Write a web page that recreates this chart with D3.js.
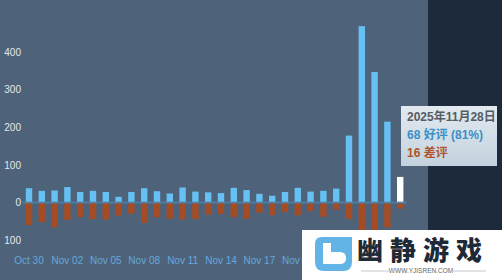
<!DOCTYPE html>
<html>
<head>
<meta charset="utf-8">
<script src="https://cdn.jsdelivr.net/npm/d3@7"></script>
<style>
  body { margin: 0; background: #1b2838; }
  svg { display: block; }
</style>
</head>
<body>
<div id="chart"></div>
<script>
// review histogram data, one entry per day
const days = [
  '2025-10-30', '2025-10-31', '2025-11-01', '2025-11-02', '2025-11-03', '2025-11-04',
  '2025-11-05', '2025-11-06', '2025-11-07', '2025-11-08', '2025-11-09', '2025-11-10',
  '2025-11-11', '2025-11-12', '2025-11-13', '2025-11-14', '2025-11-15', '2025-11-16',
  '2025-11-17', '2025-11-18', '2025-11-19', '2025-11-20', '2025-11-21', '2025-11-22',
  '2025-11-23', '2025-11-24', '2025-11-25', '2025-11-26', '2025-11-27', '2025-11-28'
]
const positive = [38, 31, 32, 41, 28, 31, 28, 15, 28, 38, 30, 24,
                  40, 29, 27, 25, 39, 33, 23, 18, 28, 39, 29, 31,
                  37, 178, 469, 347, 215, 68]
const negative = [60, 52, 66, 46, 39, 44, 45, 35, 30, 54, 39, 43,
                  45, 44, 32, 30, 39, 43, 27, 34, 25, 34, 23, 38,
                  19, 44, 90, 78, 66, 16]
const yTicks = [-100, 0, 100, 200, 300, 400]
const xTickDays = ['2025-10-30', '2025-11-02', '2025-11-05', '2025-11-08', '2025-11-11',
                   '2025-11-14', '2025-11-17', '2025-11-20', '2025-11-23', '2025-11-26']
const xTickLabels = ['Oct 30', 'Nov 02', 'Nov 05', 'Nov 08', 'Nov 11',
                     'Nov 14', 'Nov 17', 'Nov 20', 'Nov 23', 'Nov 26']
const hovered = '2025-11-28'
const tipLines = ['2025年11月28日', '68 好评 (81%)', '16 差评']

const width = 502,
      height = 280,
      plotRight = 428

const svg = d3.select('#chart')
  .append('svg')
  .attr('width', width)
  .attr('height', height)

// backgrounds
svg.append('rect')
  .attr('width', width).attr('height', height)
  .attr('fill', '#1c2a3b')
svg.append('rect')
  .attr('width', plotRight).attr('height', height)
  .attr('fill', '#4e6379')

let xScale = d3.scaleBand()
  .domain(days)
  .range([22.6, 406.6])
  .paddingInner(0.5)
  .paddingOuter(0.25)

let yScale = d3.scaleLinear()
  .domain([-200, 500])
  .range([277.7, 14.5])

// positive bars
svg.selectAll('rect.pos')
  .data(days)
  .enter()
  .append('rect')
  .attr('class', 'pos')
  .attr('x', d => xScale(d))
  .attr('y', (d, i) => yScale(positive[i]))
  .attr('width', xScale.bandwidth())
  .attr('height', (d, i) => yScale(0) - yScale(positive[i]))
  .attr('fill', d => d === hovered ? '#ffffff' : '#66c0f4')

// negative bars
svg.selectAll('rect.neg')
  .data(days)
  .enter()
  .append('rect')
  .attr('class', 'neg')
  .attr('x', d => xScale(d))
  .attr('y', yScale(0))
  .attr('width', xScale.bandwidth())
  .attr('height', (d, i) => yScale(-negative[i]) - yScale(0))
  .attr('fill', '#a34c25')

// zero line across the bar area
svg.append('line')
  .attr('x1', xScale.range()[0]).attr('x2', xScale.range()[1])
  .attr('y1', yScale(0)).attr('y2', yScale(0))
  .attr('stroke', '#4f86b3')
  .attr('stroke-opacity', 0.75)
  .attr('stroke-width', 2)

// y axis, absolute values
let yAxis = svg.append('g')
  .attr('transform', 'translate(21,0)')
  .call(d3.axisLeft(yScale)
    .tickValues(yTicks)
    .tickFormat(d => Math.abs(d))
    .tickSize(0)
    .tickPadding(0))
yAxis.select('.domain').remove()
yAxis.selectAll('text')
  .attr('fill', '#e4e8eb')
  .attr('font-family', 'Liberation Sans, Arial, sans-serif')
  .attr('font-size', 10)

// x axis
let xAxis = svg.append('g')
  .attr('transform', 'translate(0,257)')
  .call(d3.axisBottom(xScale)
    .tickValues(xTickDays)
    .tickFormat(d => xTickLabels[xTickDays.indexOf(d)])
    .tickSize(0)
    .tickPadding(0))
xAxis.select('.domain').remove()
xAxis.selectAll('text')
  .attr('fill', '#64a8dc')
  .attr('font-family', 'Liberation Sans, Arial, sans-serif')
  .attr('font-size', 10)

// tooltip
const defs = svg.append('defs')
const grad = defs.append('linearGradient')
  .attr('id', 'tipGrad')
  .attr('x1', 0).attr('y1', 0).attr('x2', 0).attr('y2', 1)
grad.append('stop').attr('offset', '0%').attr('stop-color', '#e3eaf0')
grad.append('stop').attr('offset', '100%').attr('stop-color', '#c3d2de')

const tip = svg.append('g').attr('transform', 'translate(401,106)')
tip.append('rect')
  .attr('width', 96).attr('height', 60)
  .attr('fill', 'url(#tipGrad)')
const tipColors = ['#545c64', '#3b8fc6', '#b0542b']
tip.selectAll('text')
  .data(tipLines)
  .enter()
  .append('text')
  .attr('x', 6)
  .attr('y', (d, i) => 15 + i * 18)
  .attr('fill', (d, i) => tipColors[i])
  .attr('font-family', 'Liberation Sans, Arial, Noto Sans CJK SC, sans-serif')
  .attr('font-weight', 'bold')
  .attr('font-size', 12)
  .text(d => d)

// watermark overlay
const wm = svg.append('g')
wm.append('rect')
  .attr('x', 302).attr('y', 230)
  .attr('width', 200).attr('height', 50)
  .attr('fill', '#ffffff')
wm.append('path')
  .attr('d', 'M322,237 H352 V262 Q352,271 343,271 H324 Q315,271 315,262 V244 Q315,237 322,237 Z')
  .attr('fill', '#62b4e6')
wm.append('path')
  .attr('d', 'M323,243 V264 H340 Q346,264 346,258 Q346,252 340,252 H331 V243 Z')
  .attr('fill', '#ffffff')
wm.append('text')
  .attr('x', 357).attr('y', 248)
  .attr('dominant-baseline', 'central')
  .attr('fill', '#1f2a37')
  .attr('font-family', 'Noto Sans CJK SC, sans-serif')
  .attr('font-weight', 900)
  .attr('font-size', 26)
  .attr('letter-spacing', 7)
  .text('幽静游戏')
wm.append('text')
  .attr('x', 421).attr('y', 273)
  .attr('text-anchor', 'middle')
  .attr('fill', '#666')
  .attr('font-family', 'Liberation Sans, Arial, sans-serif')
  .attr('font-size', 6.5)
  .text('WWW.YJISREN.COM')
wm.selectAll('line.wl')
  .data([[361, 394], [448, 486]])
  .enter()
  .append('line')
  .attr('class', 'wl')
  .attr('x1', d => d[0]).attr('x2', d => d[1])
  .attr('y1', 271).attr('y2', 271)
  .attr('stroke', '#c4c8cc')
  .attr('stroke-width', 1)
</script>
</body>
</html>
